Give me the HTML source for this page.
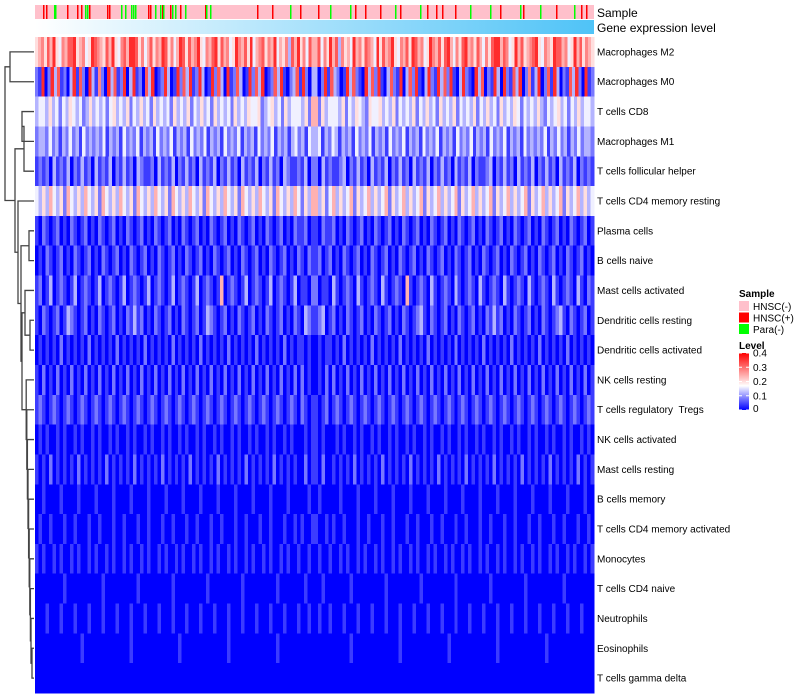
<!DOCTYPE html>
<html><head><meta charset="utf-8"><style>
body{margin:0;background:#fff}
svg{display:block;font-family:"Liberation Sans",sans-serif}
</style></head><body>
<svg id="c" width="800" height="700"></svg>
<script>
const rowNames=["Macrophages M2","Macrophages M0","T cells CD8","Macrophages M1","T cells follicular helper","T cells CD4 memory resting","Plasma cells","B cells naive","Mast cells activated","Dendritic cells resting","Dendritic cells activated","NK cells resting","T cells regulatory\u00a0\u00a0Tregs","NK cells activated","Mast cells resting","B cells memory","T cells CD4 memory activated","Monocytes","T cells CD4 naive","Neutrophils","Eosinophils","T cells gamma delta"];
const rowLevels=[
"56758695476889567459876586954786998574685769857469858679547689586745976859467857694657386957486",
"21902938120391820931720938129039120839012930192839129301928309128301928390128391023819203",
"34435342435434235343424534352435342534342534352435342534342534354452345342534443526",
"23324231324231423232413231423241323142324132314232413231423241323142324132313423143",
"12120312130213120312130213120321120312130213120312130213120312130213120321121302",
"43536435264353643526435364352643536435264353643526435364352643536435264353642536",
"10210120102101201021012010210120102101201021012010210120102101201021012010211201",
"01021012010210120102101201021012010210120102101201021012010210120102101201021021",
"12013012101301210130121013012101301210130121013012101601210130121013012101301102",
"10210120132101201021012010213120102101201021012013210120102101201021012010210321",
"01010102010101020101010201010102010101020101010201010102010101020101010201011010",
"10201020102010201020102010201020102010201020102010201020102010201020102010202010",
"12101210121012101210121012101210121012101210121012101210121012101210121012102101",
"01010010100101001010010100101001010010100101001010010100101001010010100101000101",
"10102010101020101010201010102010101020101010201010102010101020101010201010100201",
"00100001000010000100001000010000100001000010000100001000010000100001000010000010",
"01001000100100010010001001000100100010010001001000100100010010001001000100101001",
"10100101001010010100101001010010100101001010010100101001010010100101001010010010",
"00000000100000000001000000000100000000010000000001000000000100000000010000000100",
"00010001000100010001000100010001000100010001000100010001000100010001000100010010",
"00000000000001000000000000010000000000000100000000000001000000000000010000000000",
"0"];
const redPos=[43,46,67,77,81,89,107,109,148,150,162,170,180,185,205,257,272,290,300,318,355,365,380,400,427,436,442,455,500,523,556,581,586];
const greenPos=[54,55,85,87,121,125,131,133,135,155,160,163,172,175,185,206,210,290,330,350,395,420,470,490,520,540,574];
const legendTicks=[0,0.1,0.2,0.3,0.4];
const NS="http://www.w3.org/2000/svg",svg=document.getElementById('c');
function mk(t,a,p){const e=document.createElementNS(NS,t);for(const k in a)e.setAttribute(k,a[k]);(p||svg).appendChild(e);return e;}
const X0=35,X1=594,Y0=37,Y1=693,RH=(Y1-Y0)/rowNames.length;
function col(v){const m=0.17;let r,g,b;if(v<m){const t=v/m;r=g=Math.round(255*t);b=255;}else{const t=Math.min(1,(v-m)/(0.4-m));r=255;g=b=Math.round(255*(1-t));}return `rgb(${r},${g},${b})`;}
function yRow(i){return Y0+i*RH;}
const hm=mk('g',{'shape-rendering':'crispEdges'});
rowLevels.forEach((s0,i)=>{const s=s0+s0.split('').reverse().join('');const w=(X1-X0)/s.length;for(let j=0;j<s.length;j++){const v=(+s[j])*0.04;
const r=mk('rect',{x:X0+j*w,y:yRow(i),width:w+0.6,height:RH+0.6,fill:col(v)},hm);}
const t=mk('text',{x:597,y:yRow(i)+RH/2+3.5,'font-size':10,fill:'#000'});t.textContent=rowNames[i];});
const sb=mk('rect',{x:X0,y:5,width:X1-X0,height:14,fill:'#ffc0cb'});
redPos.forEach(p=>{const r=mk('rect',{x:p,y:5,width:1.5,height:14,fill:'#ff0000'});});
greenPos.forEach(p=>{const r=mk('rect',{x:p,y:5,width:1.5,height:14,fill:'#00ff00'});});
const defs=mk('defs',{});const lg=mk('linearGradient',{id:'gb'},defs);mk('stop',{offset:0,'stop-color':'#ffffff'},lg);mk('stop',{offset:1,'stop-color':'#4fc3f7'},lg);
const lg2=mk('linearGradient',{id:'lv',x1:0,y1:1,x2:0,y2:0},defs);[[0,'#0000ff'],[0.425,'#ffffff'],[1,'#ff0000']].forEach(s=>mk('stop',{offset:s[0],'stop-color':s[1]},lg2));
const gb=mk('rect',{x:X0,y:20,width:X1-X0,height:14,fill:'url(#gb)'});
let t=mk('text',{x:597,y:17,'font-size':12});t.textContent='Sample';
t=mk('text',{x:597,y:32,'font-size':12});t.textContent='Gene expression level';
function L(i){return {leaf:i};}function N(h,l,r){return {h,l,r};}
let tail=N(32,L(20),L(21));for(let i=19;i>=11;i--)tail=N(31-(19-i)*0.6,L(i),tail);
const rest=N(18,L(5),N(21,N(29,L(6),L(7)),N(22,N(25,L(8),N(30,L(9),L(10))),tail)));
const tree=N(5,N(10,L(0),L(1)),N(15,N(24,N(22,L(2),L(3)),L(4)),rest));
const dg=mk('g',{stroke:'#444','stroke-width':1.3,fill:'none'});
function draw(n){if(n.leaf!==undefined)return {x:34,y:yRow(n.leaf)+RH/2};const a=draw(n.l),b=draw(n.r);
mk('path',{d:`M${a.x},${a.y}H${n.h}V${b.y}H${b.x}`},dg);return {x:n.h,y:(a.y+b.y)/2};}
draw(tree);
t=mk('text',{x:739,y:297,'font-size':10,'font-weight':'bold'});t.textContent='Sample';
[['HNSC(-)','#ffc0cb'],['HNSC(+)','#ff0000'],['Para(-)','#00ff00']].forEach((s,i)=>{const r=mk('rect',{x:739,y:301+i*11.5,width:10,height:10,fill:s[1]});
const tt=mk('text',{x:753,y:310+i*11.5,'font-size':10});tt.textContent=s[0];});
t=mk('text',{x:739,y:349,'font-size':10,'font-weight':'bold'});t.textContent='Level';
const LB=410,LT=353;const lb=mk('rect',{x:739,y:LT,width:10,height:LB-LT,fill:'url(#lv)'});
legendTicks.forEach(v=>{const y=LB-(v/0.4)*(LB-LT);mk('line',{x1:739,x2:742,y1:y,y2:y,stroke:'#fff'});mk('line',{x1:746,x2:749,y1:y,y2:y,stroke:'#fff'});
const tt=mk('text',{x:753,y:Math.min(y+3.5,412),'font-size':10});tt.textContent=v===0?'0':String(v);});
</script>
</body></html>
